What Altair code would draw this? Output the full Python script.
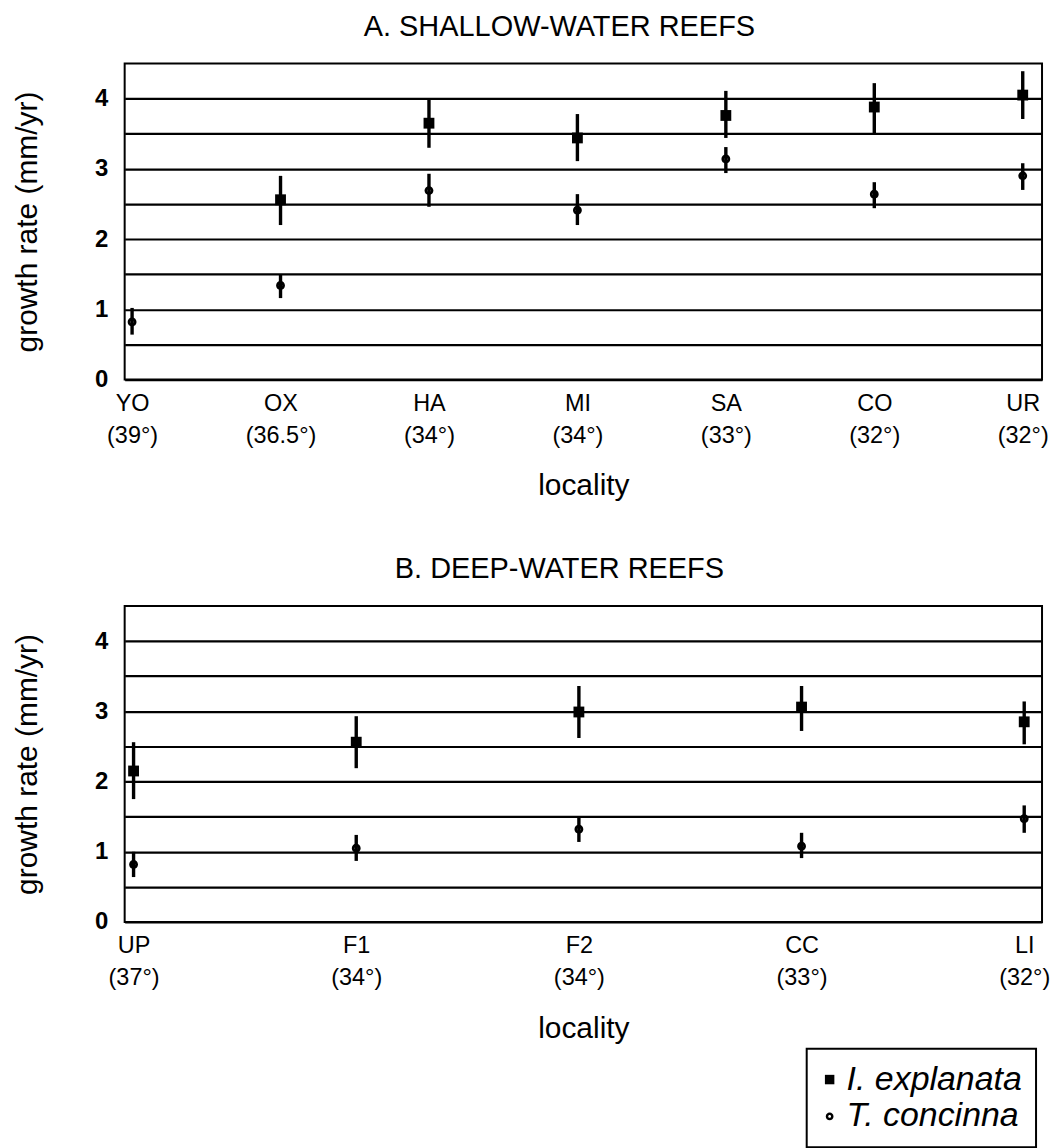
import json
import altair as alt
import pandas as pd

# ---------------- data ----------------
species = ["I. explanata", "T. concinna"]

# A. shallow-water reefs
sh_sites = ["YO", "OX", "HA", "MI", "SA", "CO", "UR"]
sh_lats = ["(39°)", "(36.5°)", "(34°)", "(34°)", "(33°)", "(32°)", "(32°)"]
sh_ie_mean = [None, 2.56, 3.65, 3.44, 3.76, 3.88, 4.05]
sh_ie_lo = [None, 2.20, 3.30, 3.11, 3.44, 3.51, 3.71]
sh_ie_hi = [None, 2.90, 3.99, 3.78, 4.11, 4.22, 4.39]
sh_tc_mean = [0.82, 1.34, 2.69, 2.41, 3.14, 2.64, 2.90]
sh_tc_lo = [0.64, 1.16, 2.46, 2.20, 2.94, 2.44, 2.70]
sh_tc_hi = [1.02, 1.49, 2.93, 2.64, 3.31, 2.81, 3.08]

# B. deep-water reefs
dp_sites = ["UP", "F1", "F2", "CC", "LI"]
dp_lats = ["(37°)", "(34°)", "(34°)", "(33°)", "(32°)"]
dp_ie_mean = [2.15, 2.56, 2.99, 3.06, 2.85]
dp_ie_lo = [1.75, 2.19, 2.62, 2.72, 2.53]
dp_ie_hi = [2.56, 2.93, 3.36, 3.36, 3.14]
dp_tc_mean = [0.82, 1.05, 1.32, 1.08, 1.47]
dp_tc_lo = [0.64, 0.87, 1.14, 0.91, 1.27]
dp_tc_hi = [1.00, 1.24, 1.49, 1.27, 1.66]

FONT = "Liberation Sans"


def circle_path(r, reverse=False):
    """Marker outline: circle of radius r (unit symbol box) from 4 cubic curves."""
    k = 0.5523 * r
    f = lambda v: ("%.3f" % v)
    if not reverse:
        pts = [(r, k, k, r, 0, r), (-k, r, -r, k, -r, 0),
               (-r, -k, -k, -r, 0, -r), (k, -r, r, -k, r, 0)]
    else:
        pts = [(r, -k, k, -r, 0, -r), (-k, -r, -r, -k, -r, 0),
               (-r, k, -k, r, 0, r), (k, r, r, k, r, 0)]
    s = "M %s 0 " % f(r)
    for p in pts:
        s += "C " + " ".join(f(v) for v in p) + " "
    return s + "Z"


# ring marker (black circle with small open centre), a bit smaller than the square
RING = circle_path(0.82) + " " + circle_path(0.3, reverse=True)


def build_df(ie_m, ie_l, ie_h, tc_m, tc_l, tc_h):
    rows = []
    for i, (m, l, h) in enumerate(zip(ie_m, ie_l, ie_h)):
        if m is not None:
            rows.append({"idx": i, "species": species[0], "mean": m, "lo": l, "hi": h})
    for i, (m, l, h) in enumerate(zip(tc_m, tc_l, tc_h)):
        rows.append({"idx": i, "species": species[1], "mean": m, "lo": l, "hi": h})
    return pd.DataFrame(rows)


def panel(df, sites, lats, dom, title):
    label_expr = "[%s[datum.value], %s[datum.value]]" % (
        json.dumps(sites, ensure_ascii=False), json.dumps(lats, ensure_ascii=False))
    xenc = alt.X("idx:Q", title="locality",
                 scale=alt.Scale(domain=dom, nice=False, zero=False),
                 axis=alt.Axis(values=list(range(len(sites))), labelExpr=label_expr,
                               labelFlush=False, labelOverlap=False))
    yaxis = alt.Axis(values=[0, 0.5, 1, 1.5, 2, 2.5, 3, 3.5, 4],
                     labelExpr="datum.value % 1 == 0 ? format(datum.value, 'd') : ''",
                     title="growth rate (mm/yr)")
    yscale = alt.Scale(domain=[0, 4.5], nice=False)
    rules = alt.Chart(df).mark_rule(color="black", strokeWidth=3.4).encode(
        x=xenc,
        y=alt.Y("lo:Q", scale=yscale, axis=yaxis, title="growth rate (mm/yr)"),
        y2="hi:Q",
    )
    pts = alt.Chart(df).mark_point(filled=True, color="black", opacity=1, size=118).encode(
        x=xenc,
        y=alt.Y("mean:Q", scale=yscale, axis=yaxis, title="growth rate (mm/yr)"),
        shape=alt.Shape("species:N", scale=alt.Scale(domain=species, range=["square", RING]),
                        legend=alt.Legend(title=None)),
    )
    return alt.layer(rules, pts).properties(
        width=920, height=317,
        title=alt.TitleParams(title, fontSize=29, fontWeight="normal", font=FONT,
                              color="black", anchor="middle", offset=22, dx=-24),
    )


top = panel(build_df(sh_ie_mean, sh_ie_lo, sh_ie_hi, sh_tc_mean, sh_tc_lo, sh_tc_hi),
            sh_sites, sh_lats, [-0.05, 6.13], "A. SHALLOW-WATER REEFS")
bot = panel(build_df(dp_ie_mean, dp_ie_lo, dp_ie_hi, dp_tc_mean, dp_tc_lo, dp_tc_hi),
            dp_sites, dp_lats, [-0.04, 4.08], "B. DEEP-WATER REEFS")

chart = alt.vconcat(top, bot, spacing=52).properties(
    padding={"left": 3, "top": 2, "right": 0, "bottom": 0}
).configure(font=FONT).configure_view(
    stroke="black", strokeWidth=2
).configure_axisY(
    grid=True, gridColor="black", gridWidth=2.2, gridOpacity=1, ticks=False, domain=False,
    labelFontSize=24, labelFontWeight="bold", labelColor="black", labelPadding=17,
    titleFontSize=30, titleFontWeight="normal", titleColor="black", titlePadding=52,
    labelFont=FONT, titleFont=FONT,
).configure_axisX(
    grid=False, ticks=False, domain=False,
    labelFontSize=23.5, labelColor="black", labelPadding=12, labelLineHeight=32,
    titleFontSize=30, titleFontWeight="normal", titleColor="black", titlePadding=24,
    labelFont=FONT, titleFont=FONT,
).configure_legend(
    orient="none", legendX=684, legendY=988,
    strokeColor="black", strokeWidth=2, padding=14, fillColor="white",
    labelFontSize=34, labelFontStyle="italic", labelFont=FONT, labelColor="black",
    labelOffset=0, symbolOffset=-8, rowPadding=3, labelLimit=400, symbolSize=90,
    symbolFillColor="black", symbolStrokeColor="black",
)

chart.save("out.html", embed_options={"renderer": "svg", "actions": False})
